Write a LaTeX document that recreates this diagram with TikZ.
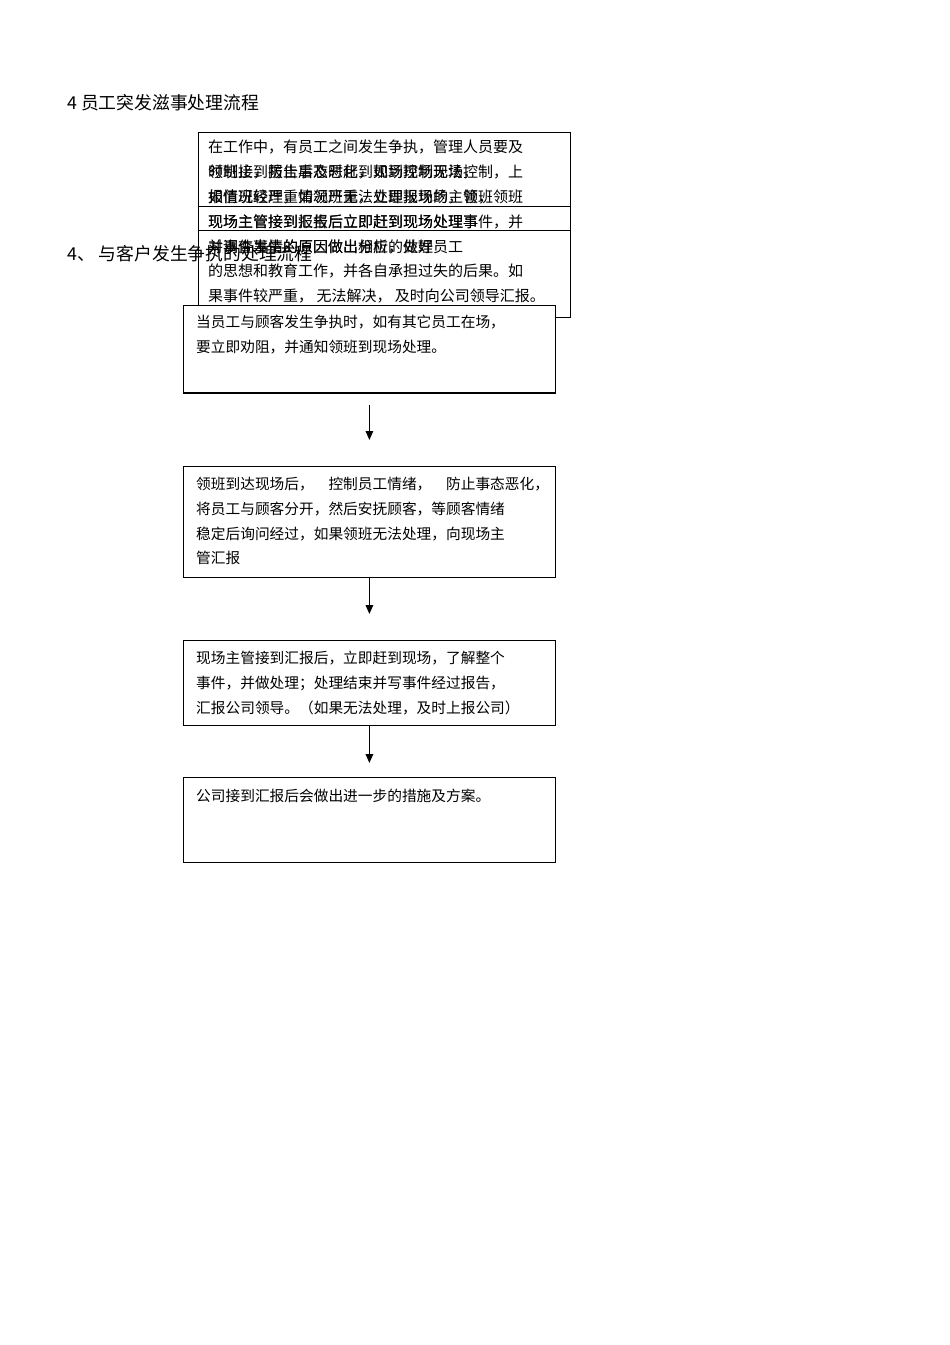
\documentclass[tikz,border=0pt]{standalone}
\usepackage{fontspec}
\setmainfont{Noto Sans CJK SC}
\usetikzlibrary{arrows.meta}

\begin{document}
\begin{tikzpicture}[x=1pt, y=-1pt,
    box/.style={draw, line width=0.8pt, anchor=north west, inner sep=0pt, minimum width=372pt},
    txt/.style={anchor=north west, inner sep=0pt, align=left, font=\fontsize{14.7}{24.7}\selectfont},
    ttl/.style={anchor=west, inner sep=0pt, font=\fontsize{17.8}{20}\selectfont},
    arr/.style={line width=1.4pt, -{Triangle[length=9pt, width=7.5pt]}}]
    \useasboundingbox (0,0) rectangle (950,1345);

    % Titles
    \node[ttl] (t1) at (67,103) {4 员工突发滋事处理流程};
    \node[ttl] (t2) at (67,254) {4、 与客户发生争执的处理流程};

    % First flow, boxes drawn over each other
    \node[box, minimum height=185pt] (b1) at (198,132) {};
    \draw[line width=0.8pt] (b1.west |- 0,206) -- (b1.east |- 0,206);
    \draw[line width=0.8pt] (b1.west |- 0,230) -- (b1.east |- 0,230);
    \node[txt, font=\fontsize{15}{24.8}\selectfont] (b1a) at (208,140) {在工作中，有员工之间发生争执，管理人员要及\\
        时制止，防止事态恶化，如到现场无法控制，上\\
        报值班经理，情况严重，立即报现场主管，领班\\
        现场主管接到汇报后立即赶到现场处理事件，并\\
        对事件发生的原因做出分析，做好员工\\
        的思想和教育工作，并各自承担过失的后果。如\\
        果事件较严重，\ 无法解决，\ 及时向公司领导汇报。};
    \node[txt, font=\fontsize{15}{24.8}\selectfont] (b1b) at (208,164.8) {领班接到报告后及时赶到现场控制现场，\\
        如情况较严重如领班无法处理现场的，领班\\
        现场主管接到报告后立即赶到现场处理事\\
        并调查事情的原因做出相应的处理};

    % Second flow
    \node[box, fill=white, minimum height=87pt] (b2) at (183,305) {};
    \draw[line width=1.6pt] (b2.south west) -- (b2.south east);
    \node[txt] (b2t) at (196,315) {当员工与顾客发生争执时，如有其它员工在场，\\
        要立即劝阻，并通知领班到现场处理。};

    \node[box, minimum height=111pt] (b3) at (183,466) {};
    \node[txt] (b3t) at (196,477) {领班到达现场后，\quad 控制员工情绪，\quad 防止事态恶化，\\
        将员工与顾客分开，然后安抚顾客，等顾客情绪\\
        稳定后询问经过，如果领班无法处理，向现场主\\
        管汇报};

    \node[box, minimum height=85pt] (b4) at (183,640) {};
    \node[txt] (b4t) at (196,651) {现场主管接到汇报后，立即赶到现场，了解整个\\
        事件，并做处理；处理结束并写事件经过报告，\\
        汇报公司领导。（如果无法处理，及时上报公司）};

    \node[box, minimum height=85pt] (b5) at (183,777) {};
    \node[txt] (b5t) at (196,789) {公司接到汇报后会做出进一步的措施及方案。};

    % Arrows
    \draw[arr] ([yshift=-12pt]b2.south) -- ([yshift=26pt]b3.north);
    \draw[arr] (b3.south) -- ([yshift=26pt]b4.north);
    \draw[arr] (b4.south) -- ([yshift=14pt]b5.north);
\end{tikzpicture}
\end{document}
